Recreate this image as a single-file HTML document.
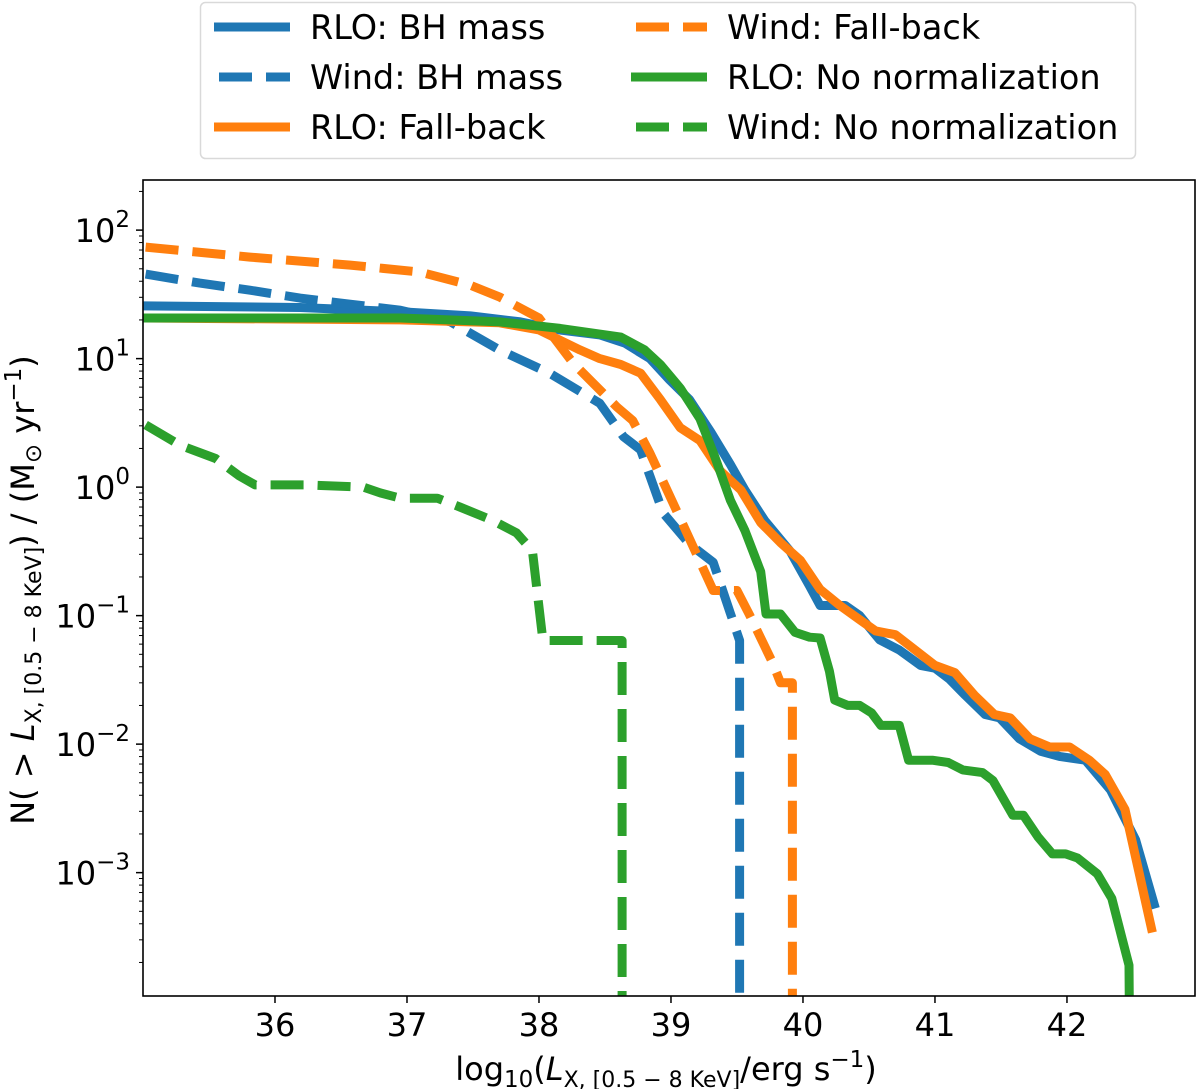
<!DOCTYPE html>
<html><head><meta charset="utf-8"><style>
html,body{margin:0;padding:0;background:#fff;}
svg{display:block;font-family:"DejaVu Sans","Liberation Sans",sans-serif;}
</style></head><body>
<svg id="chart" width="1200" height="1089" viewBox="0 0 1200 1089" xmlns="http://www.w3.org/2000/svg">
<g id="legend">
<rect x="200.5" y="2.5" width="935" height="156" rx="5" fill="#fff" stroke="#d9d9d9" stroke-width="1.5"/>
</g>
<g id="plot"></g>
<g id="axes"></g>
</svg>
<script>
const xTickLabels=[36,37,38,39,40,41,42];
const yTickExps=[2,1,0,-1,-2,-3];
const seriesNames=["RLO: BH mass","Wind: BH mass","RLO: Fall-back","Wind: Fall-back","RLO: No normalization","Wind: No normalization"];
const rloBhX=[35.02,36.19,37.0,37.48,37.86,38.16,38.46,38.65,38.84,38.99,39.14,39.30,39.45,39.56,39.71,39.90,40.05,40.13,40.32,40.43,40.58,40.73,40.89,41.0,41.11,41.23,41.38,41.49,41.64,41.80,41.95,42.14,42.33,42.52,42.66];
const rloBhN=[25.7,25,23,21.5,19.3,16.7,15.3,13.2,10,6.8,4.8,2.7,1.5,0.95,0.55,0.32,0.17,0.12,0.12,0.1,0.065,0.054,0.041,0.039,0.032,0.024,0.017,0.016,0.011,0.0088,0.008,0.0075,0.0044,0.0018,0.00057];
const windBhX=[35.02,35.43,35.81,36.19,36.57,36.95,37.33,37.70,38.08,38.46,38.64,38.77,38.94,39.14,39.32,39.45,39.52,39.52];
const windBhN=[45.5,38.7,34.1,29.6,26.5,23.8,19.3,11.7,7.7,4.5,2.47,1.95,0.63,0.36,0.26,0.104,0.064,0.00001];
const rloFbX=[35.02,36.95,37.70,38.0,38.31,38.46,38.62,38.77,38.92,39.07,39.22,39.37,39.53,39.68,39.83,39.98,40.13,40.28,40.43,40.55,40.70,40.85,41.0,41.15,41.30,41.45,41.57,41.72,41.87,42.02,42.17,42.29,42.44,42.64];
const rloFbN=[20.7,20,19,16.7,11.7,10,9.0,7.7,4.8,2.9,2.3,1.35,0.95,0.53,0.37,0.27,0.16,0.12,0.093,0.076,0.071,0.054,0.041,0.036,0.024,0.017,0.016,0.011,0.0095,0.0095,0.0075,0.0058,0.0031,0.00037];
const windFbX=[35.02,35.81,36.57,37.10,37.48,37.70,38.0,38.26,38.59,38.71,38.84,39.05,39.32,39.50,39.60,39.77,39.83,39.92,39.92];
const windFbN=[73.7,61.7,53.4,47.1,37.3,30.2,20.7,9.2,4.2,3.3,1.84,0.63,0.157,0.157,0.099,0.043,0.03,0.03,0.00001];
const rloNnX=[35.02,36.95,37.70,38.16,38.62,38.80,38.92,39.07,39.22,39.33,39.45,39.56,39.68,39.72,39.83,39.94,40.05,40.13,40.20,40.24,40.34,40.43,40.52,40.59,40.73,40.80,40.98,41.10,41.21,41.36,41.44,41.59,41.67,41.78,41.89,41.99,42.08,42.23,42.34,42.42,42.47,42.48];
const rloNnN=[20.7,20.7,19.3,17.2,14.7,11.7,9.0,5.9,3.4,1.75,0.79,0.46,0.22,0.103,0.103,0.074,0.068,0.067,0.037,0.022,0.02,0.02,0.0175,0.014,0.014,0.0075,0.0075,0.0072,0.0063,0.006,0.0052,0.0028,0.0028,0.0019,0.0014,0.0014,0.0013,0.00098,0.00063,0.0003,0.00019,0.00001];
const windNnX=[35.02,35.28,35.55,35.73,35.85,36.24,36.67,36.80,36.95,37.23,37.40,37.65,37.83,37.95,38.03,38.63,38.63];
const windNnN=[3.05,2.12,1.67,1.22,1.04,1.04,1.0,0.9,0.82,0.82,0.70,0.55,0.44,0.32,0.064,0.064,0.00001];

const NS="http://www.w3.org/2000/svg";
const L=143,R=1195,T=180,B=996;
const X0=35.0,X1=42.97,Y0=-3.96,Y1=2.39;
function sx(v){return L+(v-X0)/(X1-X0)*(R-L);}
function sy(n){const lg=Math.log10(n);return T+(Y1-lg)/(Y1-Y0)*(B-T);}
function mk(tag,attrs,parent){const e=document.createElementNS(NS,tag);for(const k in attrs)e.setAttribute(k,attrs[k]);parent.appendChild(e);return e;}
const svg=document.getElementById('chart');
const plot=document.getElementById('plot');
const axes=document.getElementById('axes');
const defs=mk('defs',{},svg);
const cp=mk('clipPath',{id:'clip'},defs);
mk('rect',{x:L,y:T,width:R-L,height:B-T},cp);
plot.setAttribute('clip-path','url(#clip)');
const C={blue:'#1f77b4',orange:'#ff7f0e',green:'#2ca02c'};
const series=[
 {x:rloBhX,n:rloBhN,c:C.blue,d:false,name:'rlo-bh-mass-line'},
 {x:windBhX,n:windBhN,c:C.blue,d:true,name:'wind-bh-mass-line'},
 {x:rloFbX,n:rloFbN,c:C.orange,d:false,name:'rlo-fallback-line'},
 {x:windFbX,n:windFbN,c:C.orange,d:true,name:'wind-fallback-line'},
 {x:rloNnX,n:rloNnN,c:C.green,d:false,name:'rlo-no-normalization-line'},
 {x:windNnX,n:windNnN,c:C.green,d:true,name:'wind-no-normalization-line'}
];
series.forEach(s=>{
 const pts=s.x.map((v,j)=>sx(v).toFixed(1)+','+sy(s.n[j]).toFixed(1)).join(' ');
 const p=mk('polyline',{points:pts,fill:'none',stroke:s.c,'stroke-width':9,'stroke-linejoin':'round','stroke-linecap':s.d?'butt':'square'},plot);
 if(s.d)p.setAttribute('stroke-dasharray','33 14');
 
 
});
const fr=mk('rect',{x:L,y:T,width:R-L,height:B-T,fill:'none',stroke:'#000','stroke-width':1.6},axes);


xTickLabels.forEach(v=>{
 const x=sx(v);
 mk('line',{x1:x,y1:B,x2:x,y2:B+7,stroke:'#000','stroke-width':1.5},axes);
 const t=mk('text',{x:x,y:1036,'text-anchor':'middle','font-size':32,fill:'#000'},axes);
 t.textContent=v;
 
 
});
yTickExps.forEach(e=>{
 const y=sy(Math.pow(10,e));
 mk('line',{x1:L,y1:y,x2:L-7,y2:y,stroke:'#000','stroke-width':1.5},axes);
 const t=mk('text',{x:130,y:y+12,'text-anchor':'end','font-size':32,fill:'#000'},axes);
 t.textContent='10';
 const ts=mk('tspan',{dy:-15,'font-size':23},t);
 ts.textContent=e<0?'\u2212'+(-e):String(e);
 
 
});
for(let e=-4;e<=2;e++){for(let m=2;m<=9;m++){const v=m*Math.pow(10,e);const lg=Math.log10(v);if(lg<Y0||lg>Y1)continue;const y=sy(v);mk('line',{x1:L,y1:y,x2:L-4,y2:y,stroke:'#000','stroke-width':1},axes);}}
const xt=mk('text',{x:666,y:1080,'text-anchor':'middle','font-size':32,fill:'#000'},axes);
xt.innerHTML='log<tspan font-size="23" dy="7">10</tspan><tspan dy="-7">(</tspan><tspan font-style="italic">L</tspan><tspan font-size="22" dy="7">X, [0.5 \u2212 8 KeV]</tspan><tspan dy="-7">/erg s</tspan><tspan font-size="23" dy="-13">\u22121</tspan><tspan dy="13">)</tspan>';


const yt=mk('text',{x:0,y:0,'text-anchor':'middle','font-size':32,fill:'#000',transform:'translate(34,590) rotate(-90)'},axes);
yt.innerHTML='N( &gt; <tspan font-style="italic">L</tspan><tspan font-size="22" dy="7">X, [0.5 \u2212 8 KeV]</tspan><tspan dy="-7">) / (M</tspan><tspan font-size="23" dy="7">\u2299</tspan><tspan dy="-7"> yr</tspan><tspan font-size="23" dy="-13">\u22121</tspan><tspan dy="13">)</tspan>';


const lg=document.getElementById('legend');
const legPos=[[208,27],[208,77],[208,127],[625,27],[625,77],[625,127]];
series.forEach((s,i)=>{
 const [x,y]=legPos[i];
 const g=mk('g',{},lg);
 
 
 const ln=mk('line',{x1:x+6,y1:y,x2:x+82,y2:y,stroke:s.c,'stroke-width':9},g);
 if(s.d){ln.setAttribute('stroke-dasharray','33 14');ln.setAttribute('x1',x+11);}
 const t=mk('text',{x:x+102,y:y+12,'font-size':33.5,fill:'#000'},g);
 t.textContent=seriesNames[i];
});
</script>
</body></html>
